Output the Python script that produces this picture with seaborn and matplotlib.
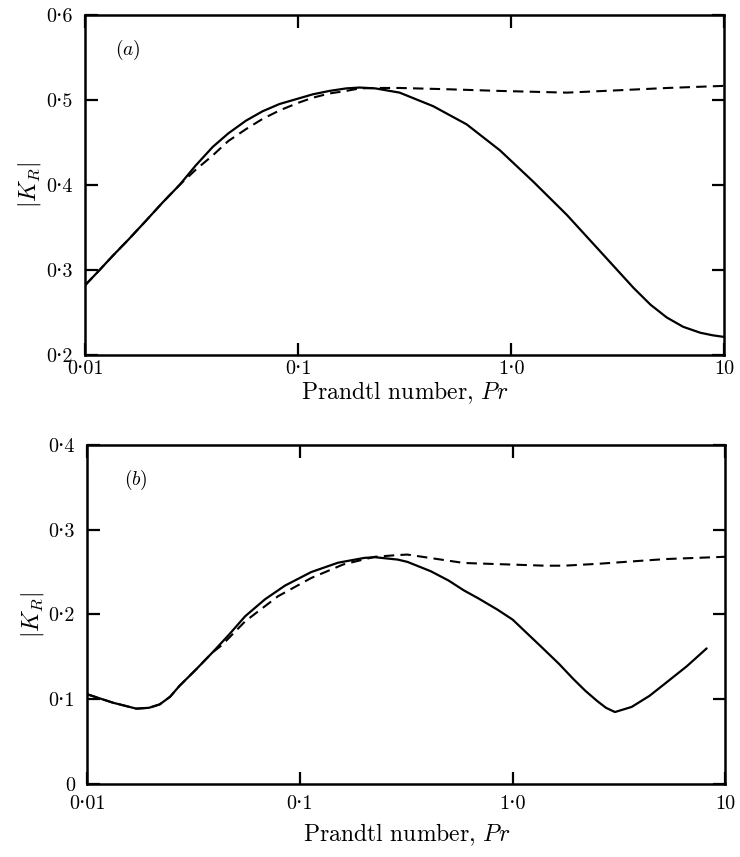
import matplotlib
matplotlib.use("Agg")
import matplotlib.pyplot as plt
import seaborn as sns
import pandas as pd
from matplotlib.ticker import FixedLocator, NullLocator

# values (Pr, |K_R|)
pr_a_solid = [0.01, 0.0116, 0.0134, 0.0160, 0.0193, 0.0230, 0.0277, 0.0330, 0.0397, 0.0470, 0.0569,
              0.0680, 0.0817, 0.100, 0.117, 0.140, 0.168, 0.194, 0.230, 0.299, 0.430, 0.617, 0.884,
              1.268, 1.82, 2.61, 3.74, 4.50, 5.36, 6.40, 7.70, 8.80, 10.0]
k_a_solid = [0.282, 0.299, 0.316, 0.336, 0.358, 0.379, 0.400, 0.423, 0.445, 0.461, 0.476,
             0.487, 0.4956, 0.502, 0.507, 0.511, 0.514, 0.515, 0.514, 0.509, 0.493, 0.4716, 0.441,
             0.404, 0.365, 0.322, 0.279, 0.259, 0.244, 0.233, 0.226, 0.223, 0.221]
pr_a_dash = [0.01, 0.0116, 0.0134, 0.0160, 0.0193, 0.0230, 0.0277, 0.0330, 0.0397, 0.0470, 0.0569,
             0.0680, 0.0817, 0.100, 0.117, 0.140, 0.168, 0.194, 0.230, 0.299, 0.500, 0.884, 1.82,
             2.73, 5.40, 10.0]
k_a_dash = [0.282, 0.299, 0.316, 0.336, 0.358, 0.379, 0.400, 0.418, 0.435, 0.452, 0.466,
            0.478, 0.488, 0.497, 0.503, 0.508, 0.511, 0.514, 0.5145, 0.5145, 0.513, 0.511, 0.509,
            0.511, 0.5145, 0.517]

pr_b_solid = [0.01, 0.0132, 0.0170, 0.0195, 0.0219, 0.0245, 0.0271, 0.0324, 0.0387, 0.0463, 0.0553,
              0.0686, 0.085, 0.113, 0.151, 0.201, 0.225, 0.288, 0.320, 0.412, 0.500, 0.589, 0.69, 0.845,
              1.0, 1.35, 1.65, 1.93, 2.2, 2.5, 2.75, 3.03, 3.63, 4.40, 5.24, 6.60, 8.18]
k_b_solid = [0.1059, 0.096, 0.089, 0.090, 0.094, 0.103, 0.1157, 0.135, 0.155, 0.176, 0.198,
             0.218, 0.234, 0.250, 0.261, 0.2667, 0.2675, 0.2647, 0.262, 0.251, 0.240, 0.2285, 0.219, 0.206,
             0.194, 0.163, 0.142, 0.124, 0.110, 0.098, 0.090, 0.085, 0.091, 0.104, 0.119, 0.139, 0.160]
pr_b_dash = [0.01, 0.0132, 0.0170, 0.0195, 0.0219, 0.0245, 0.0271, 0.0324, 0.0387, 0.0430, 0.0553,
             0.0789, 0.113, 0.160, 0.225, 0.288, 0.320, 0.589, 1.42, 1.75, 2.52, 3.63, 5.24, 10.0]
k_b_dash = [0.1059, 0.096, 0.089, 0.090, 0.094, 0.103, 0.1157, 0.135, 0.155, 0.164, 0.192,
            0.2215, 0.243, 0.259, 0.268, 0.270, 0.2706, 0.2607, 0.2575, 0.2575, 0.2597, 0.2625,
            0.2653, 0.268]

x_ticks = [0.01, 0.1, 1.0, 10]
x_labels = ["0·01", "0·1", "1·0", "10"]
y_ticks_a = [0.2, 0.3, 0.4, 0.5, 0.6]
y_labels_a = ["0·2", "0·3", "0·4", "0·5", "0·6"]
y_ticks_b = [0, 0.1, 0.2, 0.3, 0.4]
y_labels_b = ["0", "0·1", "0·2", "0·3", "0·4"]

sns.set_style("ticks")
plt.rcParams['font.family'] = ['cmr10', 'DejaVu Serif']
plt.rcParams['mathtext.fontset'] = 'cm'
plt.rcParams['axes.unicode_minus'] = False
plt.rcParams['axes.formatter.use_mathtext'] = True

fig = plt.figure(figsize=(7.4, 8.57), dpi=100)
ax_a = fig.add_axes([0.115, 0.586, 0.864, 0.396])
ax_b = fig.add_axes([0.118, 0.085, 0.862, 0.396])


def panel(ax, xs, ys, xd, yd, yticks, ylabels, ylim, tag, tag_x, xtick_pad, xlab_pad):
    ds = pd.DataFrame({"Pr": xs, "K": ys})
    dd = pd.DataFrame({"Pr": xd, "K": yd})
    sns.lineplot(data=dd, x="Pr", y="K", ax=ax, color="black", lw=1.5,
                 linestyle=(0, (5, 3)), sort=False, estimator=None)
    sns.lineplot(data=ds, x="Pr", y="K", ax=ax, color="black", lw=1.6,
                 sort=False, estimator=None)
    ax.set_xscale("log")
    ax.set_xlim(0.01, 10)
    ax.set_ylim(*ylim)
    ax.xaxis.set_major_locator(FixedLocator(x_ticks))
    ax.xaxis.set_minor_locator(NullLocator())
    ax.set_xticklabels(x_labels)
    ax.set_yticks(yticks)
    ax.set_yticklabels(ylabels)
    ax.tick_params(direction="in", length=9, width=1.6, top=True, right=True,
                   labelsize=14.5, colors="black")
    ax.tick_params(axis="x", pad=xtick_pad)
    ax.tick_params(axis="y", pad=9)
    for s in ax.spines.values():
        s.set_linewidth(1.8)
        s.set_color("black")
    ax.set_xlabel(r"Prandtl number, $Pr$", fontsize=17, labelpad=xlab_pad, color="black")
    ax.set_ylabel(r"$|K_R|$", fontsize=17, labelpad=2, color="black")
    ax.text(tag_x, 0.897, tag, transform=ax.transAxes, fontsize=14, va="center", color="black")


panel(ax_a, pr_a_solid, k_a_solid, pr_a_dash, k_a_dash, y_ticks_a, y_labels_a,
      (0.2, 0.6), "($a$)", 0.047, 4, 1)
panel(ax_b, pr_b_solid, k_b_solid, pr_b_dash, k_b_dash, y_ticks_b, y_labels_b,
      (0, 0.4), "($b$)", 0.058, 8, 6)

fig.savefig("out.png", dpi=100)
